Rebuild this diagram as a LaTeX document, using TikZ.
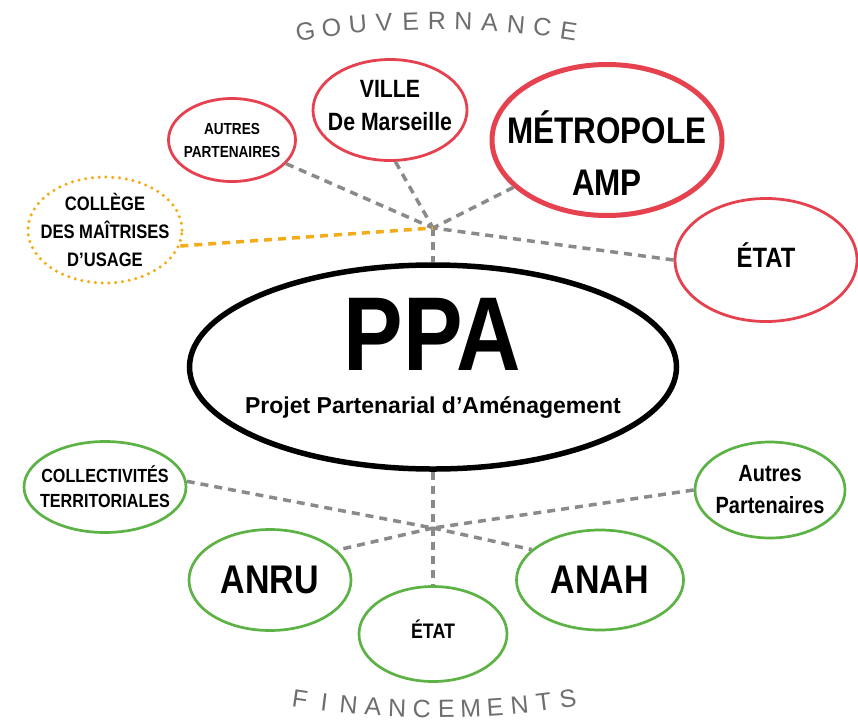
\documentclass[tikz,border=0pt]{standalone}
\usepackage{fontspec}
\setmainfont{Liberation Sans}
\newfontfamily\narrow[FakeStretch=0.85]{Liberation Sans}
\usetikzlibrary{shapes.geometric}

\definecolor{gouvrouge}{HTML}{E5414E}
\definecolor{finvert}{HTML}{5CB244}
\definecolor{usageorange}{HTML}{F3AC1A}
\definecolor{liengris}{HTML}{8A8A8A}
\definecolor{titregris}{HTML}{6E6E6E}

\begin{document}
\begin{tikzpicture}[
    x=1pt, y=-1pt,
    acteur/.style n args={2}{ellipse, inner sep=-20pt, align=center,
      font=\narrow\bfseries\fontsize{#1}{#2}\selectfont},
    gouvernance/.style n args={2}{acteur={#1}{#2}, draw=gouvrouge, line width=2.8pt},
    financement/.style n args={2}{acteur={#1}{#2}, draw=finvert, line width=2.7pt},
    lien/.style={draw=liengris, line width=3.5pt, dash pattern=on 8pt off 6pt},
    titre/.style={text=titregris, inner sep=0pt, font=\fontsize{25}{25}\selectfont}
   ]
  \useasboundingbox (0,0) rectangle (858,723);

  % centre
  \node[ellipse, draw, line width=5.5pt, minimum width=487pt, minimum height=204pt] (ppa) at (433,367) {};
  \node[inner sep=0pt, font=\narrow\bfseries\fontsize{105}{105}\selectfont] (ppatitre) at (432,334) {PPA};
  \node[inner sep=0pt, font=\bfseries\fontsize{23}{27}\selectfont] (ppasous) at (433,407) {Projet Partenarial d’Aménagement};

  % gouvernance
  \node[gouvernance={16}{23}, minimum width=127pt, minimum height=83pt] (autres) at (232,140) {AUTRES\\PARTENAIRES};
  \node[gouvernance={25}{33}, text depth=10pt, minimum width=154pt, minimum height=101pt] (ville) at (390,110) {VILLE\\De Marseille};
  \node[gouvernance={37}{52}, line width=5pt, minimum width=230pt, minimum height=151pt] (metropole) at (607,140) {};
  \node[acteur={37}{52}] (metropoletexte) at (607,153) {MÉTROPOLE\\AMP};
  \node[gouvernance={28}{32}, text depth=9pt, minimum width=182pt, minimum height=123pt] (etathaut) at (766,260) {ÉTAT};
  \node[acteur={19.5}{28}, draw=usageorange, line width=3.5pt, line cap=round, dash pattern=on 0pt off 6.8pt,
        minimum width=154pt, minimum height=106pt] (college) at (105,230) {COLLÈGE\\DES MAÎTRISES\\D’USAGE};

  % financements
  \node[financement={19}{25}, minimum width=162pt, minimum height=91pt] (collectivites) at (105,487) {COLLECTIVITÉS\\TERRITORIALES};
  \node[financement={23.5}{32}, minimum width=150pt, minimum height=96pt] (autresfin) at (770,490) {Autres\\Partenaires};
  \node[financement={40}{40}, minimum width=162pt, minimum height=101pt] (anru) at (270,580) {ANRU};
  \node[financement={40}{40}, minimum width=167pt, minimum height=100pt] (anah) at (600,580) {ANAH};
  \node[financement={21}{21}, text depth=9pt, minimum width=148pt, minimum height=95pt] (etatbas) at (433,634) {ÉTAT};

  \coordinate (hubhaut) at (433,228);
  \coordinate (hubbas) at (433,528);

  \draw[lien] (autres) -- (hubhaut);
  \draw[lien] (ville.-84) -- (hubhaut);
  \draw[lien] (metropole) -- (hubhaut);
  \draw[lien] (etathaut.west) -- (hubhaut);
  \draw[lien] (hubhaut) -- (ppa);
  \draw[lien, draw=usageorange] (college.-12) -- (hubhaut);

  \draw[lien] (collectivites.4) -- (hubbas);
  \draw[lien] (hubbas) -- (anah.156);
  \draw[lien] (autresfin.west) -- (hubbas);
  \draw[lien] (hubbas) -- (anru.24);
  \draw[lien] (ppa) -- (etatbas);

  % titres en arc
  \foreach \lettre [count=\i from 0] in {G,O,U,V,E,R,N,A,N,C,E} {
    \pgfmathsetmacro\ang{-8.7+\i*1.74}
    \pgfmathsetmacro\rot{-\ang}
    \node[titre, rotate=\rot] (lettreG\i) at ({437+870*sin(\ang)},{21+870*(1-cos(\ang))}) {\lettre};
  }
  \foreach \lettre [count=\i from 0] in {F,I,N,A,N,C,E,M,E,N,T,S} {
    \pgfmathsetmacro\ang{-8.56+\i*17.12/11}
    \node[titre, rotate=\ang] (lettreF\i) at ({434+900*sin(\ang)},{709-900*(1-cos(\ang))}) {\lettre};
  }
\end{tikzpicture}
\end{document}
